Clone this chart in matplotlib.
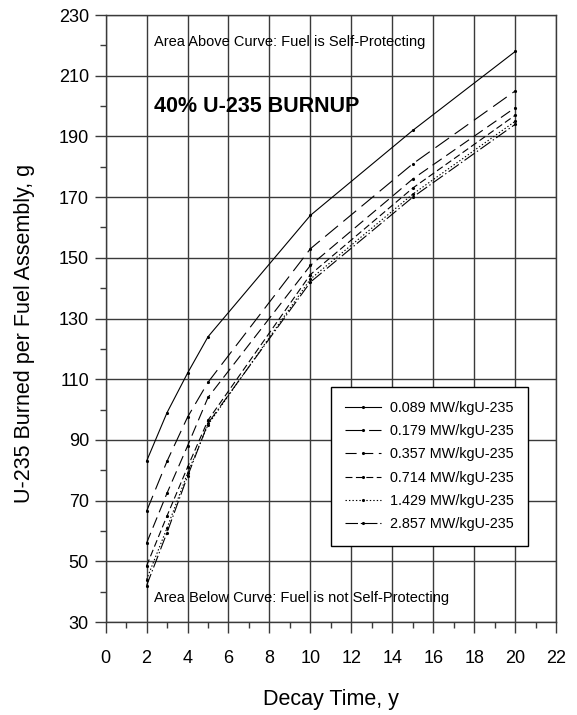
import matplotlib
matplotlib.use("Agg")
import matplotlib.pyplot as plt
from matplotlib.ticker import MultipleLocator, FixedLocator

# --- Data ---
decay_time = [2, 3, 4, 5, 10, 15, 20]
labels = ["0.089 MW/kgU-235", "0.179 MW/kgU-235", "0.357 MW/kgU-235",
          "0.714 MW/kgU-235", "1.429 MW/kgU-235", "2.857 MW/kgU-235"]
burn_0089 = [83, 99, 112, 124, 164, 192, 218]
burn_0179 = [66.5, 83, 97.5, 109, 153, 181, 205]
burn_0357 = [56, 72.5, 88, 104, 147.5, 176, 199.5]
burn_0714 = [48.5, 65, 81, 96.5, 144.5, 173, 197]
burn_1429 = [44, 61, 79, 95, 143, 171, 195]
burn_2857 = [42, 59.5, 78, 95.5, 142, 170, 194]
series = [burn_0089, burn_0179, burn_0357, burn_0714, burn_1429, burn_2857]

y_major = list(range(30, 231, 20))
y_minor = list(range(40, 230, 20))

# --- Line dash patterns (points) ---
dashes = [None, [12, 5], [8, 4], [5, 2.5], [1, 1.5], [9, 2, 1, 2]]

plt.rcParams["font.family"] = ["Liberation Sans", "DejaVu Sans"]
plt.rcParams["lines.scale_dashes"] = False

fig = plt.figure(figsize=(5.77, 7.15), dpi=100)
ax = fig.add_axes([0.183, 0.130, 0.781, 0.849])

for vals, lab, d in zip(series, labels, dashes):
    line, = ax.plot(decay_time, vals, color="black", lw=0.8,
                    marker=".", markersize=2.5, label=lab)
    if d is not None:
        line.set_dashes(d)

ax.set_xlim(0, 22)
ax.set_ylim(30, 230)
ax.xaxis.set_major_locator(MultipleLocator(2))
ax.xaxis.set_minor_locator(MultipleLocator(1))
ax.yaxis.set_major_locator(FixedLocator(y_major))
ax.yaxis.set_minor_locator(FixedLocator(y_minor))
ax.grid(True, which="major", color="#3a3a3a", lw=1.0)

ax.tick_params(which="major", direction="out", length=8, width=1.0,
               color="#3a3a3a", labelsize=13)
ax.tick_params(which="minor", direction="out", length=4.5, width=1.0,
               color="#3a3a3a")
ax.tick_params(axis="x", which="major", pad=12)
ax.tick_params(axis="y", which="major", pad=4)
for s in ax.spines.values():
    s.set_color("#3a3a3a")
    s.set_linewidth(1.0)

ax.set_xlabel("Decay Time, y", fontsize=15.5, labelpad=16)
ax.set_ylabel("U-235 Burned per Fuel Assembly, g", fontsize=15.5)
ax.yaxis.set_label_coords(-0.156, 0.475)

ax.text(2.35, 221, "Area Above Curve: Fuel is Self-Protecting",
        fontsize=10.5, va="center")
ax.text(2.35, 200, "40% U-235 BURNUP", fontsize=15.5, fontweight="bold",
        va="center")
ax.text(2.35, 38, "Area Below Curve: Fuel is not Self-Protecting",
        fontsize=10.5, va="center")

leg = ax.legend(loc="upper left", bbox_to_anchor=(0.5, 0.388),
                fontsize=10.4, frameon=True, fancybox=False,
                edgecolor="black", framealpha=1, handlelength=2.5,
                labelspacing=0.64, borderpad=1.0, handletextpad=0.6,
                borderaxespad=0)
leg.get_frame().set_linewidth(1.0)

plt.savefig("out.png", dpi=100)
